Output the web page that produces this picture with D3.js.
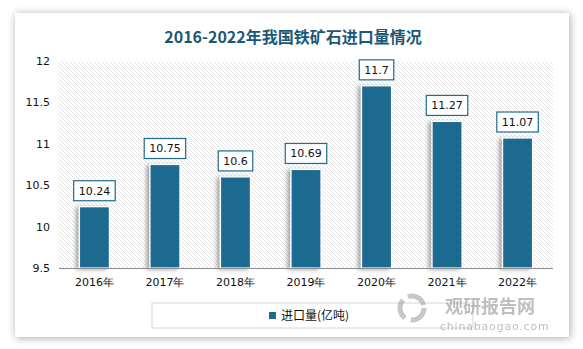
<!DOCTYPE html>
<html>
<head>
<meta charset="utf-8">
<script src="https://cdn.jsdelivr.net/npm/d3@7"></script>
<style>
  html, body { margin: 0; padding: 0; background: #ffffff; }
  svg { display: block; }
</style>
</head>
<body>
<svg id="chart" width="583" height="349"></svg>
<script>
// Iron ore imports, 2016–2022 (hundred million tonnes)
const years = ["2016年", "2017年", "2018年", "2019年", "2020年", "2021年", "2022年"];
const imports = [10.24, 10.75, 10.6, 10.69, 11.7, 11.27, 11.07];
const yTicks = [9.5, 10, 10.5, 11, 11.5, 12];
const titleText = "2016-2022年我国铁矿石进口量情况";
const seriesName = "进口量(亿吨)";

const W = 583, H = 349;
const margin = { top: 61, right: 30, bottom: 81, left: 59 };
const barColor = "#1f6b8f";
const uiFont = "'DejaVu Sans', Verdana, sans-serif";

const svg = d3.select("#chart");
const defs = svg.append("defs");

// soft shadow around the card
const cardShadow = defs.append("filter").attr("id", "cardShadow")
  .attr("x", "-10%").attr("y", "-10%").attr("width", "120%").attr("height", "120%");
cardShadow.append("feGaussianBlur").attr("in", "SourceAlpha").attr("stdDeviation", 4).attr("result", "b");
cardShadow.append("feOffset").attr("in", "b").attr("dx", 1).attr("dy", 1).attr("result", "o");
cardShadow.append("feComponentTransfer").attr("in", "o").attr("result", "s")
  .append("feFuncA").attr("type", "linear").attr("slope", 0.35);
const m1 = cardShadow.append("feMerge");
m1.append("feMergeNode").attr("in", "s");
m1.append("feMergeNode").attr("in", "SourceGraphic");

// bar shadow falling to the left
const barShadow = defs.append("filter").attr("id", "barShadow")
  .attr("x", "-40%").attr("y", "-10%").attr("width", "160%").attr("height", "120%");
barShadow.append("feGaussianBlur").attr("in", "SourceAlpha").attr("stdDeviation", 2).attr("result", "b");
barShadow.append("feOffset").attr("in", "b").attr("dx", -3).attr("dy", 1).attr("result", "o");
barShadow.append("feComponentTransfer").attr("in", "o").attr("result", "s")
  .append("feFuncA").attr("type", "linear").attr("slope", 0.35);
const m2 = barShadow.append("feMerge");
m2.append("feMergeNode").attr("in", "s");
m2.append("feMergeNode").attr("in", "SourceGraphic");

// diagonal hatch for the plot background
const hatch = defs.append("pattern").attr("id", "hatch")
  .attr("patternUnits", "userSpaceOnUse").attr("width", 4).attr("height", 4);
hatch.append("rect").attr("width", 4).attr("height", 4).attr("fill", "#ffffff");
hatch.append("path").attr("d", "M-1,-1 L5,5 M-1,3 L1,5 M3,-1 L5,1")
  .attr("stroke", "#e0e0e0").attr("stroke-width", 0.9);

// card
svg.append("rect").attr("x", 15).attr("y", 13).attr("width", 554).attr("height", 324)
  .attr("fill", "#ffffff").attr("filter", "url(#cardShadow)");

// title
svg.append("text").attr("x", 293).attr("y", 43).attr("text-anchor", "middle")
  .attr("font-family", "'Noto Sans CJK SC', sans-serif").attr("font-weight", "bold")
  .attr("font-size", 16).attr("fill", "#1b5878").text(titleText);

const x = d3.scaleBand().domain(years)
  .range([margin.left, W - margin.right]).paddingInner(0.575).paddingOuter(0.29);
const y = d3.scaleLinear().domain([9.5, 12]).range([H - margin.bottom, margin.top]);

// plot background
svg.append("rect").attr("x", margin.left).attr("y", margin.top)
  .attr("width", W - margin.right - margin.left).attr("height", y(9.5) - margin.top)
  .attr("fill", "url(#hatch)");

// y axis
const yAxis = svg.append("g").attr("transform", `translate(${margin.left},0)`)
  .call(d3.axisLeft(y).tickValues(yTicks).tickSize(0).tickPadding(9).tickFormat(d3.format("")));
yAxis.select(".domain").remove();
yAxis.selectAll("text").attr("font-family", uiFont).attr("font-size", 11).attr("fill", "#111");

// bars
svg.append("g").selectAll("rect").data(imports).join("rect")
  .attr("x", (d, i) => x(years[i]))
  .attr("y", d => y(d))
  .attr("width", x.bandwidth())
  .attr("height", d => y(9.5) - y(d))
  .attr("fill", barColor).attr("stroke", "#ffffff").attr("stroke-width", 1.2)
  .attr("filter", "url(#barShadow)");

// x axis
const xAxis = svg.append("g").attr("transform", `translate(0,${y(9.5)})`)
  .call(d3.axisBottom(x).tickSize(0).tickPadding(10));
xAxis.select(".domain").attr("stroke", "#8c8c8c").attr("stroke-width", 1.2)
  .attr("d", `M${margin.left},0.5H${W - margin.right}`);
xAxis.selectAll("text").attr("font-family", uiFont).attr("font-size", 11).attr("fill", "#111");

// value labels in boxes
const labels = svg.append("g").selectAll("g").data(imports).join("g")
  .attr("transform", (d, i) => `translate(${x(years[i]) + x.bandwidth() / 2},${y(d) - 16})`);
labels.append("text").attr("text-anchor", "middle").attr("dy", "0.35em")
  .attr("font-family", uiFont).attr("font-size", 11).attr("fill", "#111")
  .text(d => String(d));
labels.each(function () {
  const g = d3.select(this);
  const bb = g.select("text").node().getBBox();
  g.insert("rect", "text").attr("x", bb.x - 5).attr("y", -10)
    .attr("width", bb.width + 10).attr("height", 20)
    .attr("fill", "#ffffff").attr("stroke", barColor).attr("stroke-width", 1.2);
});

// legend
svg.append("rect").attr("x", 152).attr("y", 303).attr("width", 321).attr("height", 25)
  .attr("fill", "#ffffff").attr("stroke", "#d6d6d6");
svg.append("rect").attr("x", 269).attr("y", 312).attr("width", 7).attr("height", 7).attr("fill", barColor);
svg.append("text").attr("x", 281).attr("y", 320).attr("font-family", "'Noto Sans CJK SC', sans-serif")
  .attr("font-size", 12).attr("fill", "#111").text(seriesName);

// publisher mark
const mark = svg.append("g").attr("opacity", 0.55);
mark.append("circle").attr("cx", 412).attr("cy", 308).attr("r", 12)
  .attr("fill", "none").attr("stroke", "#9a9a9a").attr("stroke-width", 5)
  .attr("stroke-dasharray", "20 6");
mark.append("text").attr("x", 445).attr("y", 313).attr("text-anchor", "start")
  .attr("font-family", "'Noto Sans CJK SC', sans-serif").attr("font-weight", "bold")
  .attr("font-size", 18).attr("fill", "#8a8a8a").text("观研报告网");
mark.append("text").attr("x", 440).attr("y", 330)
  .attr("font-family", uiFont).attr("font-size", 11).attr("fill", "#8a8a8a")
  .attr("letter-spacing", 0.8).text("chinabaogao.com");
</script>
</body>
</html>
